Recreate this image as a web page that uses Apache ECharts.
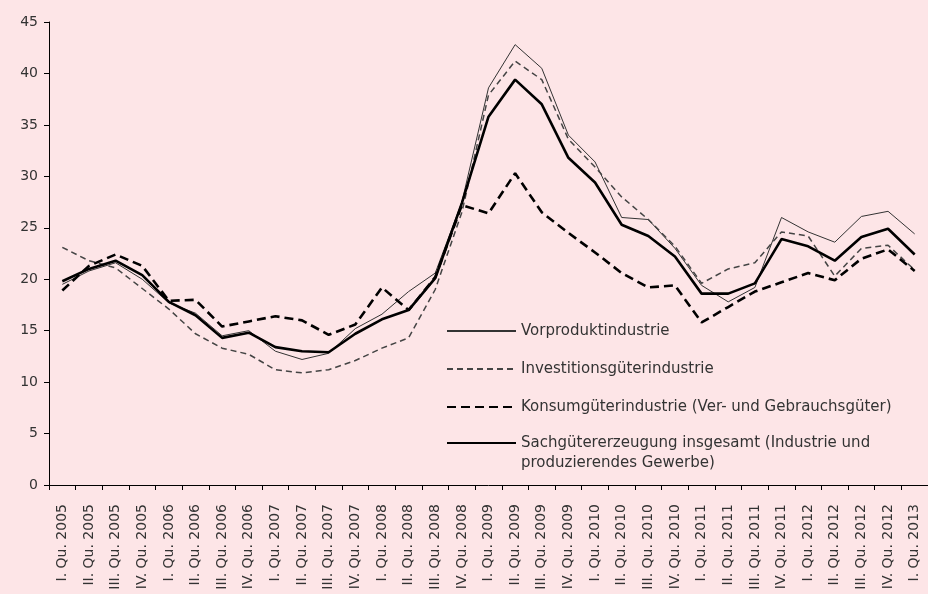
<!DOCTYPE html>
<html>
<head>
<meta charset="utf-8">
<script src="https://cdn.jsdelivr.net/npm/echarts@6/dist/echarts.min.js"></script>
<style>
  html, body { margin: 0; padding: 0; background: #fde5e7; }
  #chart { width: 928px; height: 594px; }
</style>
</head>
<body>
<div id="chart"></div>
<script>
const quarters = ['I.', 'II.', 'III.', 'IV.'];
const categories = [];
for (let y = 2005; y <= 2012; y++) {
  quarters.forEach(q => categories.push(q + ' Qu. ' + y));
}
categories.push('I. Qu. 2013');

const vorprodukt = [19.5, 20.8, 21.6, 20.0, 17.7, 16.7, 14.5, 15.0, 13.0, 12.2, 12.8, 15.2, 16.6, 18.8, 20.6,
  27.5, 38.6, 42.8, 40.5, 34.0, 31.4, 26.0, 25.8, 23.0, 19.4, 17.8, 19.2, 26.0, 24.6, 23.6, 26.1, 26.6, 24.4];
const investition = [23.1, 21.8, 21.1, 19.1, 17.1, 14.7, 13.3, 12.7, 11.2, 10.9, 11.2, 12.1, 13.3, 14.3, 19.0,
  26.5, 37.9, 41.2, 39.4, 33.6, 30.9, 28.0, 25.8, 23.2, 19.6, 21.0, 21.6, 24.6, 24.2, 20.3, 23.0, 23.3, 20.9];
const konsum = [18.9, 21.3, 22.4, 21.3, 17.9, 18.0, 15.4, 15.9, 16.4, 16.0, 14.6, 15.6, 19.2, 17.0, 20.2,
  27.2, 26.4, 30.3, 26.5, 24.5, 22.6, 20.6, 19.2, 19.4, 15.8, 17.3, 18.8, 19.7, 20.6, 19.9, 22.0, 22.9, 20.8];
const sachgueter = [19.8, 21.0, 21.8, 20.4, 17.8, 16.5, 14.3, 14.8, 13.4, 13.0, 12.9, 14.7, 16.1, 17.0, 20.1,
  27.4, 35.8, 39.4, 37.0, 31.8, 29.4, 25.3, 24.2, 22.2, 18.6, 18.6, 19.6, 23.9, 23.2, 21.8, 24.1, 24.9, 22.4];

const names = [
  'Vorproduktindustrie',
  'Investitionsgüterindustrie',
  'Konsumgüterindustrie (Ver- und Gebrauchsgüter)',
  'Sachgütererzeugung insgesamt (Industrie und produzierendes Gewerbe)'
];

const font = 'DejaVu Sans';
const textColor = '#333';
const legendText = { fontFamily: font, fontSize: 15, color: textColor, lineHeight: 20 };

const myChart = echarts.init(document.getElementById('chart'));
myChart.setOption({
  backgroundColor: '#fde5e7',
  animation: false,
  grid: { left: 49, top: 22, width: 888, height: 463 },
  legend: [
    {
      data: names.slice(0, 3),
      orient: 'vertical',
      left: 446, top: 321,
      padding: 0,
      itemWidth: 69, itemHeight: 14, itemGap: 18,
      itemStyle: { opacity: 0 },
      textStyle: legendText
    },
    {
      // blank first line keeps the sample line level with the first text line
      data: [names[3]],
      orient: 'vertical',
      left: 446, top: 413,
      padding: 0,
      itemWidth: 69, itemHeight: 14,
      itemStyle: { opacity: 0 },
      formatter: () => ' \nSachgütererzeugung insgesamt (Industrie und\nproduzierendes Gewerbe)',
      textStyle: legendText
    }
  ],
  xAxis: {
    type: 'category',
    data: categories,
    boundaryGap: true,
    axisLine: { lineStyle: { color: '#000', width: 1 } },
    axisTick: { show: true, length: 5, interval: 0, lineStyle: { color: '#000' } },
    axisLabel: { interval: 0, rotate: 90, margin: 19, fontFamily: font, fontSize: 14, color: textColor }
  },
  yAxis: {
    type: 'value',
    min: 0, max: 45, interval: 5,
    splitLine: { show: false },
    axisLine: { show: true, lineStyle: { color: '#000', width: 1 } },
    axisTick: { show: true, length: 5, lineStyle: { color: '#000' } },
    axisLabel: { margin: 11, fontFamily: font, fontSize: 14, color: textColor }
  },
  series: [
    {
      name: names[0], type: 'line', data: vorprodukt, symbol: 'none', z: 2,
      itemStyle: { color: '#333' },
      lineStyle: { color: '#333', width: 1 }
    },
    {
      name: names[1], type: 'line', data: investition, symbol: 'none', z: 3,
      itemStyle: { color: '#444' },
      lineStyle: { color: '#444', width: 1.5, type: [6, 4] }
    },
    {
      name: names[2], type: 'line', data: konsum, symbol: 'none', z: 4,
      itemStyle: { color: '#000' },
      lineStyle: { color: '#000', width: 2.6, type: [9, 5] }
    },
    {
      name: names[3], type: 'line', data: sachgueter, symbol: 'none', z: 5,
      itemStyle: { color: '#000' },
      lineStyle: { color: '#000', width: 2.6 }
    }
  ]
});
</script>
</body>
</html>
